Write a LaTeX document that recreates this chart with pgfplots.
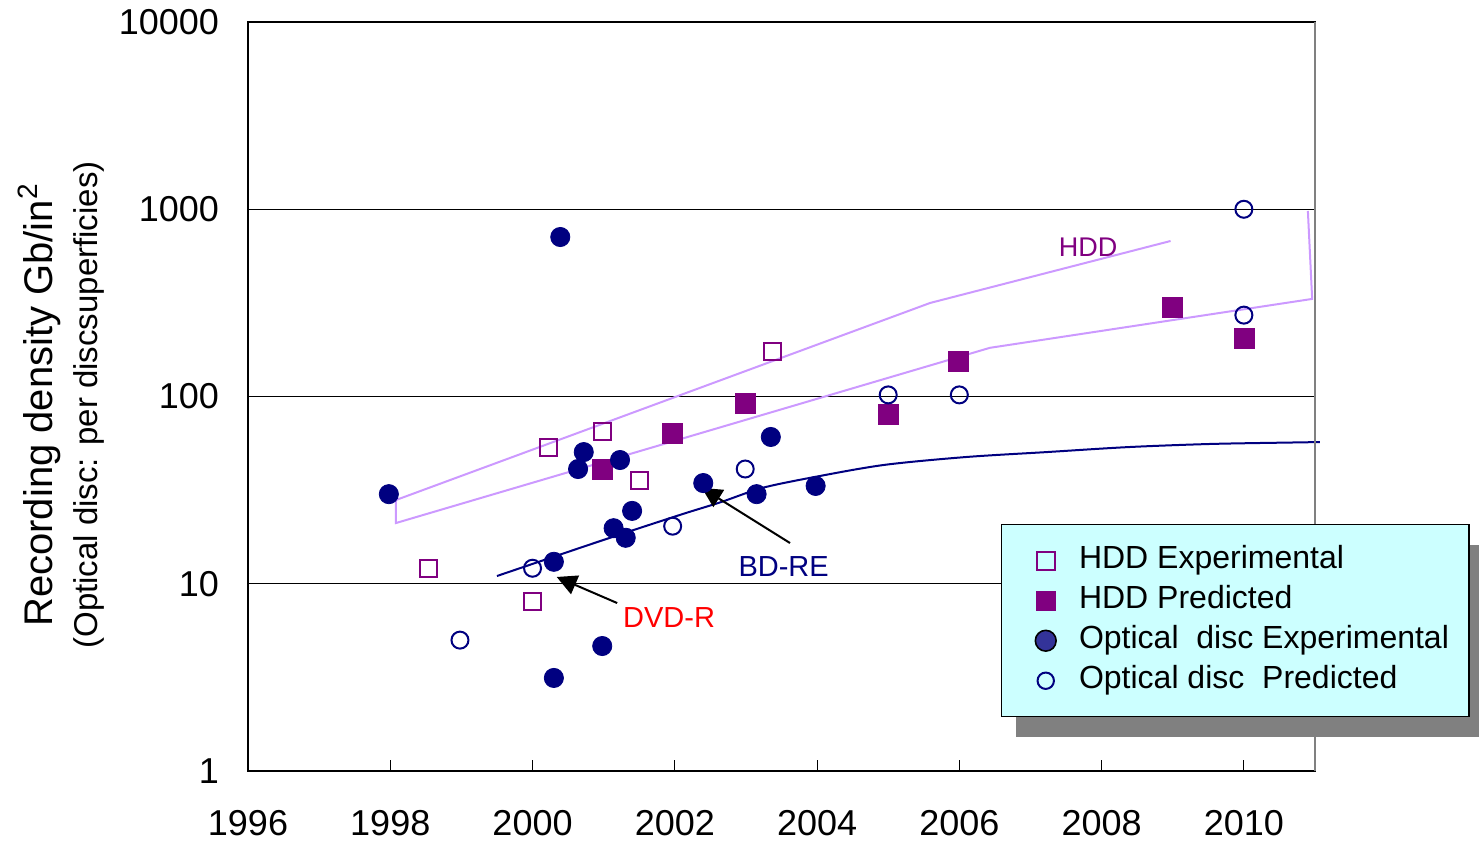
\documentclass[border=0pt]{standalone}
\usepackage{fontspec}
\setmainfont{Liberation Sans}
\usepackage{pgfplots}
\pgfplotsset{compat=1.18}
\usetikzlibrary{arrows.meta,shadows}
\definecolor{hddpurple}{HTML}{800080}
\definecolor{odnavy}{HTML}{000080}
\definecolor{trendlilac}{HTML}{CC99FF}
\definecolor{legcyan}{HTML}{CCFFFF}
\definecolor{legnavy}{HTML}{333399}
\newcommand{\legbb}{\pgfpathmoveto{\pgfpoint{0pt}{0pt}}\pgfpathlineto{\pgfpoint{26.15pt}{0pt}}\pgfusepath{discard}}
\begin{document}
\begin{tikzpicture}
\begin{axis}[
  scale only axis, width=533.5pt, height=374.5pt,
  ymode=log, xmin=1996, xmax=2011, ymin=1, ymax=10000,
  xtick={1996,1998,2000,2002,2004,2006,2008,2010},
  xticklabels={1996,1998,2000,2002,2004,2006,2008,2010},
  ytick={1,10,100,1000,10000},
  yticklabels={1,10,100,1000,10000},
  yminorticks=false,
  tick label style={font=\fontsize{18}{20}\selectfont},
  xticklabel style={yshift=-16pt},
  yticklabel style={xshift=-11pt},
  tick align=inside,
  major tick length=5.5pt,
  ytick style={draw=none},
  xtick style={black, line width=0.5pt},
  xtick pos=bottom, ytick pos=left,
  ymajorgrids, grid style={black, line width=0.5pt},
  axis line style={black, line width=0.75pt},
  clip=false,
  ylabel={Recording density Gb/in\textsuperscript{2}\\\fontsize{16.5}{22.5}\selectfont (Optical disc: per discsuperficies)},
  ylabel style={at={(axis description cs:-0.1753,0.4887)}, anchor=center, rotate=0, align=center, font=\fontsize{20}{22.5}\selectfont},
  legend style={
    at={(0.7057,0.3298)}, anchor=north west,
    fill=legcyan, draw=black, line width=0.75pt,
    drop shadow={shadow xshift=7pt, shadow yshift=-10pt, fill=gray, opacity=1},
    font=\fontsize{16}{19}\selectfont,
    inner xsep=8pt, inner ysep=10.5pt,
    row sep=5pt,
    nodes={text height=11.5pt, text depth=3.5pt, inner ysep=0pt},
    /tikz/every odd column/.append style={column sep=2.5pt},
    /tikz/every even column/.append style={column sep=0pt},
  },
  legend cell align=left,
]
% trend polyline (HDD)
\addplot[forget plot, color=trendlilac, line width=1pt] coordinates {
(2008.97,677) (2005.59,316) (1998.08,28.0) (1998.08,21.1) (2006.43,182) (2010.96,332) (2010.90,979)};
% optical trend curve
\addplot[forget plot, color=odnavy, line width=1pt, smooth] coordinates {
(1999.50,11.0) (2000.95,16.9) (2002.07,23.3) (2002.65,27.3) (2003.23,32.5) (2003.97,37.2) (2004.94,43.1) (2006.09,47.5) (2007.23,50.5) (2008.38,53.7) (2009.54,55.8) (2010.68,56.8) (2011.07,57.1)};
% HDD Experimental
\addplot[only marks, mark=square, mark size=4.25pt, mark options={draw=hddpurple, line width=1pt, fill=none},
  legend image code/.code={\legbb\pgfsetlinewidth{1pt}\pgfsetstrokecolor{hddpurple}%
    \pgfpathrectangle{\pgfpoint{9.5pt}{-4.5pt}}{\pgfpoint{9pt}{9pt}}\pgfusepath{stroke}}] coordinates {
(1998.54,12.1) (2000.22,53.1) (2000.98,65.4) (2001.50,35.8) (2000.00,8.0) (2003.38,175)};
\addlegendentry{HDD Experimental}
% HDD Predicted
\addplot[only marks, mark=square*, mark size=5pt, mark options={draw=hddpurple, fill=hddpurple, line width=0.3pt},
  legend image code/.code={\legbb\pgfsetfillcolor{hddpurple}%
    \pgfpathrectangle{\pgfpoint{9pt}{-5pt}}{\pgfpoint{10pt}{10pt}}\pgfusepath{fill}}] coordinates {
(2000.98,41) (2001.97,63.9) (2002.99,92.3) (2005.00,80.7) (2005.98,155) (2008.99,300) (2010.00,205)};
\addlegendentry{HDD Predicted}
% Optical Experimental
\addplot[only marks, mark=*, mark size=4.8pt, mark options={draw=odnavy, fill=odnavy, line width=0.4pt},
  legend image code/.code={\legbb\pgfsetlinewidth{0.8pt}\pgfsetstrokecolor{black}\pgfsetfillcolor{legnavy}%
    \pgfpathcircle{\pgfpoint{14pt}{0pt}}{5.2pt}\pgfusepath{fill,stroke}}] coordinates {
(1997.98,30.1) (2000.39,711) (2000.72,50.5) (2000.64,41) (2001.23,45.8) (2000.30,13.1) (2001.14,19.8) (2001.31,17.6) (2001.40,24.5) (2002.40,34.5) (2003.15,30.1) (2003.35,60.8) (2003.98,33.3) (2000.98,4.65) (2000.30,3.14)};
\addlegendentry{Optical~ disc Experimental}
% Optical Predicted
\addplot[only marks, mark=o, mark size=4.25pt, mark options={draw=odnavy, line width=1pt, fill=none},
  legend image code/.code={\legbb\pgfsetlinewidth{1pt}\pgfsetstrokecolor{odnavy}%
    \pgfpathcircle{\pgfpoint{14pt}{0pt}}{4.1pt}\pgfusepath{stroke}}] coordinates {
(1998.98,5.0) (2000.00,12.1) (2001.97,20.3) (2002.99,41) (2005.00,102) (2006.00,102) (2010.00,1000) (2010.00,272)};
\addlegendentry{Optical disc~ Predicted}
% right axis line grey
\draw[gray, line width=1pt] (rel axis cs:1,0) -- (rel axis cs:1,1);
% annotations
\node[text=hddpurple, font=\fontsize{13.5}{15}\selectfont] at (axis cs:2007.81,629) {HDD};
\node[text=odnavy, font=\fontsize{14.5}{16}\selectfont] at (axis cs:2003.53,12.4) {BD-RE};
\node[text=red, font=\fontsize{14.5}{16}\selectfont] at (axis cs:2001.92,6.64) {DVD-R};
\draw[black, line width=1pt, -{Triangle[length=10pt,width=10pt]}] (axis cs:2003.62,16.5) -- (axis cs:2002.38,32.5);
\draw[black, line width=1pt, -{Triangle[length=10pt,width=10pt]}] (axis cs:2001.19,7.89) -- (axis cs:2000.34,10.87);
\end{axis}
\pgfresetboundingbox
\path[use as bounding box] (current axis.south west) ++(-124pt,-40.5pt) rectangle ++(739.5pt,426pt);
\end{tikzpicture}
\end{document}
